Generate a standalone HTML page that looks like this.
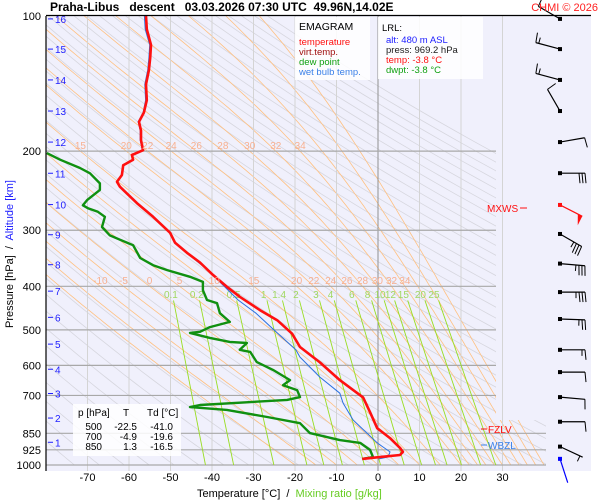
<!DOCTYPE html>
<html><head><meta charset="utf-8">
<style>
html,body{margin:0;padding:0;background:#fff;}
svg{display:block;font-family:"Liberation Sans",sans-serif;}
</style></head>
<body>
<svg id="chart" xmlns="http://www.w3.org/2000/svg" width="600" height="500" viewBox="0 0 600 500">
  <defs>
    <clipPath id="plotClip"><polygon points="46,16 496,16 496,420 546,420 546,465 46,465"/></clipPath>
    <clipPath id="profClip"><rect x="46" y="16" width="500" height="455"/></clipPath>
  </defs>
  <rect x="46" y="16" width="545" height="455" fill="#f0f0fc"/>
  <g id="bglines" clip-path="url(#plotClip)"></g>
  <g id="grid"></g>
  <g id="mixing"></g>
  <g id="profiles" clip-path="url(#profClip)"></g>
  <g id="barbs"></g>
  <g id="labels"></g>
  <line x1="46" y1="16" x2="46" y2="471" stroke="#000" stroke-width="1.2"/>
  <line x1="46" y1="15.5" x2="591" y2="15.5" stroke="#000" stroke-width="1.2"/>
  <text x="50" y="11" font-size="12" font-weight="bold" style="white-space:pre" xml:space="preserve">Praha-Libus   descent   03.03.2026 07:30 UTC  49.96N,14.02E</text>
  <text x="598" y="11" font-size="11" fill="#ff2020" text-anchor="end">CHMI © 2026</text>

  <g>
    <rect x="295" y="17" width="75" height="63" fill="#fff" opacity="0.85"/>
    <text x="299" y="30" font-size="10.5">EMAGRAM</text>
    <text x="299" y="45" font-size="9.5" fill="#ff1010">temperature</text>
    <text x="299" y="55" font-size="9.5" fill="#a01010">virt.temp.</text>
    <text x="299" y="65" font-size="9.5" fill="#10a010">dew point</text>
    <text x="299" y="75" font-size="9.5" fill="#3a80e8">wet bulb temp.</text>
  </g>
  <g>
    <rect x="378" y="17" width="105" height="62" fill="#fff" opacity="0.85"/>
    <text x="382" y="31" font-size="9.5">LRL:</text>
    <text x="386" y="43" font-size="9.5" fill="#2020ff">alt: 480 m ASL</text>
    <text x="386" y="53" font-size="9.5" fill="#202020">press: 969.2 hPa</text>
    <text x="386" y="63" font-size="9.5" fill="#ff1010">temp: -3.8 °C</text>
    <text x="386" y="73" font-size="9.5" fill="#10a010">dwpt: -3.8 °C</text>
  </g>
  <g>
    <rect x="73" y="404" width="108" height="52" fill="#fff" opacity="0.85"/>
    <text x="78" y="416" font-size="10">p [hPa]</text>
    <text x="123" y="416" font-size="10">T</text>
    <text x="147" y="416" font-size="10">Td [°C]</text>
    <g font-size="10" text-anchor="end">
      <text x="102" y="430">500</text><text x="137" y="430">-22.5</text><text x="173" y="430">-41.0</text>
      <text x="102" y="440">700</text><text x="137" y="440">-4.9</text><text x="173" y="440">-19.6</text>
      <text x="102" y="450">850</text><text x="137" y="450">1.3</text><text x="173" y="450">-16.5</text>
    </g>
  </g>
  <g><line x1="481" y1="429" x2="487" y2="429" stroke="#ff1010"/><text x="488" y="433" font-size="10" fill="#ff1010">FZLV</text></g>
  <g><line x1="481" y1="445" x2="487" y2="445" stroke="#3a80e8"/><text x="488" y="449" font-size="10" fill="#3a80e8">WBZL</text></g>
  <g><text x="487" y="212" font-size="10" fill="#ff1010">MXWS</text><line x1="520" y1="208" x2="527" y2="208" stroke="#ff1010"/></g>

  <text transform="translate(13,254) rotate(-90)" font-size="11" text-anchor="middle" style="white-space:pre" xml:space="preserve">Pressure [hPa]  /  <tspan fill="#2020ff">Altitude [km]</tspan></text>
  <text x="197" y="497" font-size="11" style="white-space:pre" xml:space="preserve">Temperature [°C]  /  <tspan fill="#66cc22">Mixing ratio [g/kg]</tspan></text>
</svg>
<script>
// ---- data ----
const tempP = [100,107,116,124,132,142,154,164,172,180,189,199,204,209,215,226,234,240,261,280,304,320,337,354,377,401,422,452,476,510,546,591,647,707,763,828,871,916,935,950,969];
const tempT = [-55.9,-55.7,-54.7,-54.9,-55.2,-55.9,-55.7,-56.4,-57.6,-57.1,-57.1,-56.6,-59.3,-59.0,-61.4,-61.7,-62.9,-62.2,-58.1,-54.2,-50.1,-48.9,-46.0,-42.9,-39.8,-36.4,-33.3,-28.4,-24.3,-20.7,-18.8,-14.0,-9.2,-3.6,-1.9,-0.2,2.9,5.3,6.0,5.3,-3.8];
const wetP = [100,107,116,124,132,142,154,164,172,180,189,199,204,209,215,226,234,240,261,280,304,320,337,368,429,459,508,554,575,637,692,728,794,893,935,960,969];
const wetT = [-56.3,-56.1,-55.0,-55.2,-55.5,-56.2,-56.0,-56.6,-57.8,-57.3,-57.3,-56.8,-59.4,-59.1,-61.5,-61.8,-63.0,-62.3,-58.2,-54.3,-50.2,-49.0,-46.1,-41.0,-33.7,-29.4,-24.3,-19.8,-18.8,-14.0,-9.2,-8.4,-6.0,-0.2,2.9,2.4,0.2];
const dewP = [202,209,218,224,236,244,257,264,268,273,280,295,308,315,324,346,359,368,381,391,408,429,436,459,480,493,505,508,521,532,535,554,560,590,614,647,664,681,706,716,735,743,754,782,807,849,880,893,926,960,969];
const dewT = [-79.8,-76.6,-71.8,-69.4,-67.0,-67.0,-70.1,-71.1,-69.9,-67.5,-65.8,-66.5,-64.6,-62.2,-59.0,-57.3,-54.2,-50.8,-45.3,-42.2,-42.2,-41.2,-38.8,-38.1,-35.7,-40.5,-42.9,-45.3,-40.5,-35.7,-31.6,-33.3,-30.8,-29.2,-25.3,-21.2,-22.9,-19.5,-18.8,-21.9,-42.9,-45.3,-36.4,-26.7,-18.8,-16.4,-9.2,-4.3,-1.9,-1.2,-3.8];
const windP = [101.5,118.5,138.8,162.8,190.9,223.9,263.5,305.8,356,412,473,554,621,706,801,910,969];
const windDir = [300,285,285,330,80,90,117,120,95,90,92,90,90,95,90,115,162];
const windSpd = [10,15,15,10,10,30,50,35,35,35,25,15,10,10,10,5,0];
const isobars = [200,300,400,500,600,700,850,925,1000];
const pLabels = [100,200,300,400,500,600,700,850,925,1000];
const tTicks = [-70,-60,-50,-40,-30,-20,-10,0,10,20,30];
const altKm = [16,15,14,13,12,11,10,9,8,7,6,5,4,3,2,1];
const altP = [101.5,118.5,138.8,162.8,190.9,224,263,307,358,410,469,538,612,693,786,890];
const mixW = [0.1,0.2,0.5,1,1.4,2,3,4,6,8,10,12,15,20,25];
const thwLines = [-20,-15,-10,-5,0,5,10,15,20,22,24,26,28,30,32,34,36,38,40];
const thwLabels200 = [15,20,22,24,26,28,30,32,34];
const thwLabels400 = [-10,-5,0,5,10,15,20,22,24,26,28,30,32,34];

// ---- helpers ----
const NS='http://www.w3.org/2000/svg';
const X=T=>378+4.15*T;
const Y=p=>16+449*Math.log10(p/100);
function mk(tag,attrs,parent){const e=document.createElementNS(NS,tag);for(const k in attrs)e.setAttribute(k,attrs[k]);parent.appendChild(e);return e;}
const esat=T=>6.112*Math.exp(17.67*T/(T+243.5));
function moist(thw){let T=thw+273.15;const pts=[];for(let p=1000;p>=100;p-=5){pts.push([p,T-273.15]);const es=esat(T-273.15);const rs=0.622*es/(p-es);const num=287*T+2.5e6*rs;const den=1004+(2.5e6*2.5e6*rs*0.622)/(287*T*T);T-=num/(p*den)*5;}return pts;}
const g=id=>document.getElementById(id);

// background lines
const bg=g('bglines');
for(let th=200;th<=480;th+=6){let d='';for(let p=1000;p>=100;p-=10){const T=th*Math.pow(p/1000,0.2857)-273.15;d+=(d?'L':'M')+X(T).toFixed(1)+','+Y(p).toFixed(1);}
  const e=mk('path',{d:d,fill:'none',stroke:'#d6d6de','stroke-width':0.8},bg);
  
  }
thwLines.forEach(thw=>{const pts=moist(thw);const d=pts.map((q,i)=>(i?'L':'M')+X(q[1]).toFixed(1)+','+Y(q[0]).toFixed(1)).join('');
  const e=mk('path',{d:d,fill:'none',stroke:'#ffc080','stroke-width':0.8},bg);
  
  });
function moistAt(thw,p){const pts=moist(thw);for(const q of pts){if(q[0]<=p)return q[1];}return pts[pts.length-1][1];}

// grid
const gr=g('grid');
for(let T=-70;T<=30;T+=10){const e=mk('line',{x1:X(T),y1:16,x2:X(T),y2:471,stroke:T===0?'#909090':'#d4d4d4','stroke-width':1},gr);
  
  }
isobars.forEach(p=>{const x2=p>=850?546:496;const e=mk('line',{x1:46,y1:Y(p),x2:x2,y2:Y(p),stroke:'#a8a8a8','stroke-width':1.2},gr);
  
  });

// mixing ratio lines
const mx=g('mixing');
const tdFromW=(w,p)=>{const e=w*p/(622+w);const l=Math.log(e/6.112);return 243.5*l/(17.67-l);};
mixW.forEach(w=>{const e=mk('line',{x1:X(tdFromW(w,430)),y1:Y(430),x2:X(tdFromW(w,1000)),y2:Y(1000),stroke:'#99dd22','stroke-width':0.9},mx);
  
  
  const t=mk('text',{x:X(tdFromW(w,400)),y:298,'font-size':10,fill:'#a0d860','text-anchor':'middle'},mx);t.textContent=String(w);
  
  });

// adiabat labels
const lb=g('labels');
thwLabels200.forEach(v=>{const t=mk('text',{x:X(moistAt(v,200)),y:149,'font-size':10,fill:'#f8b090','text-anchor':'middle'},lb);t.textContent=String(v);
  
  });
thwLabels400.forEach(v=>{const t=mk('text',{x:X(moistAt(v,400)),y:284,'font-size':10,fill:'#f8b090','text-anchor':'middle'},lb);t.textContent=String(v);
  
  });
pLabels.forEach(p=>{const t=mk('text',{x:41,y:Y(p)+4,'font-size':11,'text-anchor':'end'},lb);t.textContent=String(p);
  
  });
tTicks.forEach(T=>{const t=mk('text',{x:X(T),y:481,'font-size':11,'text-anchor':'middle'},lb);t.textContent=String(T);
  
  });
altKm.forEach((k,i)=>{const y=Y(altP[i]);mk('line',{x1:48,y1:y,x2:53,y2:y,stroke:'#2020ff'},lb);
  const t=mk('text',{x:55,y:y+4,'font-size':10,fill:'#2020ff'},lb);t.textContent=String(k);
  
  });

// profiles
const pr=g('profiles');
function prof(P,T,color,w,name){const d=P.map((p,i)=>(i?'L':'M')+X(T[i]).toFixed(1)+','+Y(p).toFixed(1)).join('');
  const e=mk('path',{d:d,fill:'none',stroke:color,'stroke-width':w,'stroke-linejoin':'round'},pr);
  
  }
prof(dewP,dewT,'#109010',2.4,'dew-point-line');
prof(wetP,wetT,'#2a70e0',1,'wet-bulb-line');
prof(tempP,tempT,'#ff1010',2.6,'temperature-line');

// wind barbs
const wb=g('barbs');
windP.forEach((p,i)=>{const bx=560,by=Y(p);const a=windDir[i]*Math.PI/180;const ux=Math.sin(a),uy=-Math.cos(a);
  const L=25;const ex=bx+L*ux,ey=by+L*uy;const nx=-uy,ny=ux;
  const col=i===6?'#ff1010':(i===windP.length-1?'#0000ff':'#000');
  const grp=mk('g',{},wb);
  
  
  mk('rect',{x:bx-2,y:by-2,width:4,height:4,fill:col},grp);
  mk('line',{x1:bx,y1:by,x2:ex,y2:ey,stroke:col,'stroke-width':1.2},grp);
  let s=windSpd[i],pos=L;
  while(s>=50){const px=bx+pos*ux,py=by+pos*uy;const qx=bx+(pos-5)*ux,qy=by+(pos-5)*uy;
    mk('polygon',{points:`${px},${py} ${px+10*nx},${py+10*ny} ${qx},${qy}`,fill:col},grp);s-=50;pos-=7;}
  while(s>=10){const px=bx+pos*ux,py=by+pos*uy;mk('line',{x1:px,y1:py,x2:px+10*nx+1*ux,y2:py+10*ny+1*uy,stroke:col,'stroke-width':1},grp);s-=10;pos-=3;}
  if(s>=5){if(pos===L)pos-=3;const px=bx+pos*ux,py=by+pos*uy;mk('line',{x1:px,y1:py,x2:px+6*nx,y2:py+6*ny,stroke:col,'stroke-width':1},grp);}
});
</script>
</body></html>
